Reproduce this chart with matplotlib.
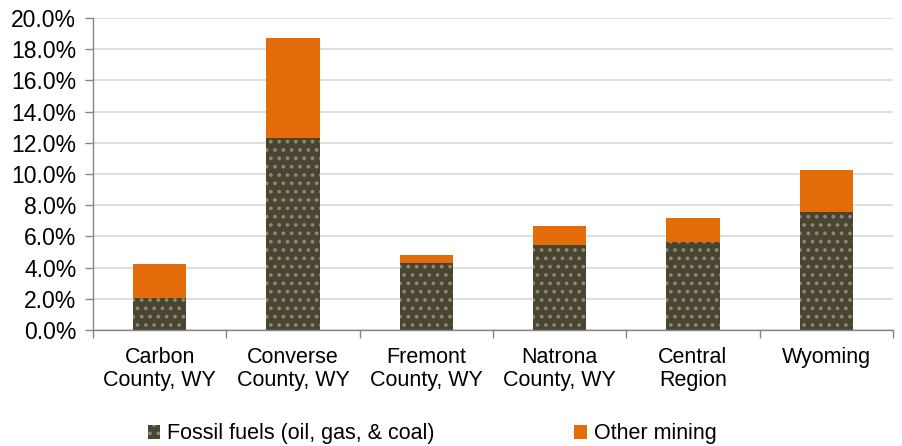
import numpy as np
import matplotlib
matplotlib.use("Agg")
import matplotlib.pyplot as plt
from matplotlib.patches import Patch
from matplotlib.ticker import FuncFormatter, FixedLocator

# data (share of employment, %)
regions = ["Carbon\nCounty, WY", "Converse\nCounty, WY", "Fremont\nCounty, WY",
           "Natrona\nCounty, WY", "Central\nRegion", "Wyoming"]
fossil = [2.05, 12.33, 4.28, 5.48, 5.62, 7.58]
other = [2.18, 6.37, 0.52, 1.19, 1.56, 2.68]
series_names = ["Fossil fuels (oil, gas, & coal)", "Other mining"]

fossil_col = "#4a4530"
other_col = "#e46c0a"
fs = 15.5

plt.rcParams["font.family"] = ["Liberation Sans", "DejaVu Sans"]
plt.rcParams["hatch.color"] = "#8a8876"
plt.rcParams["hatch.linewidth"] = 1.5

fig = plt.figure(figsize=(9.03, 4.46), dpi=100)
ax = fig.add_axes([93 / 903, 1 - 330 / 446, 800 / 903, 312 / 446])

x = np.arange(len(regions))
ax.bar(x, fossil, width=0.4, color=fossil_col, hatch="..", linewidth=0, zorder=2)
ax.bar(x, other, bottom=fossil, width=0.4, color=other_col, linewidth=0, zorder=2)

ax.set_xlim(-0.5, len(regions) - 0.5)
ax.set_ylim(0, 20)
ax.set_yticks(np.arange(0, 20.1, 2))
ax.yaxis.set_major_formatter(FuncFormatter(lambda v, p: f"{v:.1f}%"))
ax.grid(axis="y", color="#d9d9d9", linewidth=1.2, zorder=0)
ax.set_axisbelow(True)

# category labels between boundary ticks
ax.xaxis.set_major_locator(FixedLocator(np.arange(-0.5, len(regions), 1)))
ax.xaxis.set_minor_locator(FixedLocator(x))
ax.set_xticklabels([], minor=False)
ax.set_xticklabels(regions, minor=True, linespacing=1.15)
ax.tick_params(axis="x", which="minor", length=0, pad=12, labelsize=fs)
ax.tick_params(axis="x", which="major", length=6, width=1, color="#868686")
ax.tick_params(axis="y", length=6, width=1, color="#868686", labelsize=16.5, pad=6)

for s in ["top", "right"]:
    ax.spines[s].set_visible(False)
for s in ["left", "bottom"]:
    ax.spines[s].set_color("#868686")
    ax.spines[s].set_linewidth(1)

handles = [Patch(facecolor=fossil_col, hatch="..", linewidth=0),
           Patch(facecolor=other_col, linewidth=0)]
fig.legend(handles, series_names, loc="center", bbox_to_anchor=(432 / 903, 1 - 434 / 446),
           ncol=2, frameon=False, fontsize=fs, handlelength=0.6, handleheight=0.6,
           handletextpad=0.3, columnspacing=6.5)

fig.savefig("out.png", dpi=100)
